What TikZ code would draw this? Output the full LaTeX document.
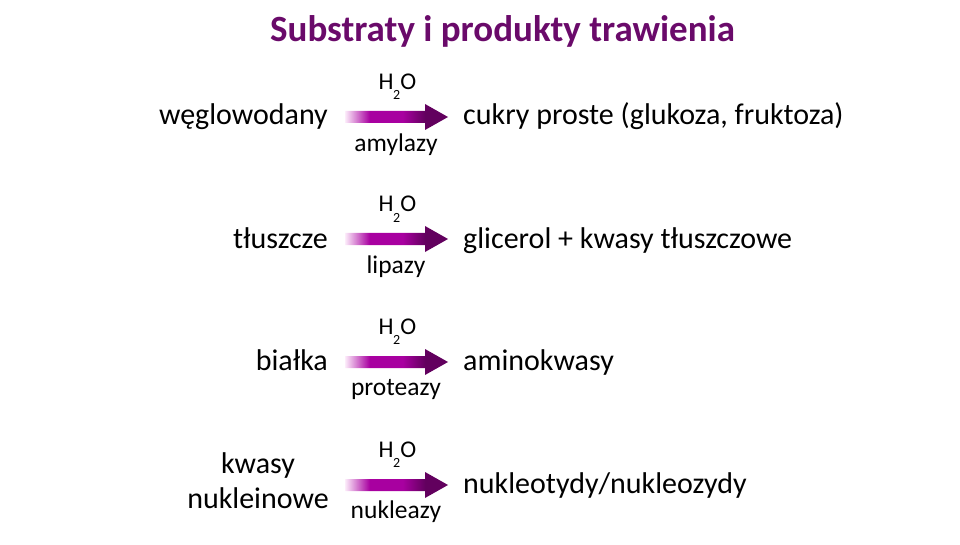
\documentclass[tikz,border=0pt]{standalone}
\usepackage{fontspec}
\setmainfont{Carlito}
\usetikzlibrary{calc}
\definecolor{titlepurple}{RGB}{106,10,106}
\definecolor{arrowlight}{RGB}{252,236,250}
\definecolor{arrowmag}{RGB}{168,0,160}
\definecolor{arrowdark}{RGB}{98,0,94}
\pgfdeclarehorizontalshading{arrowshade}{100bp}{color(0bp)=(arrowlight); color(25bp)=(arrowlight); color(37bp)=(arrowmag); color(53bp)=(arrowmag); color(64bp)=(arrowdark); color(100bp)=(arrowdark)}
\newcommand{\water}{H\kern-0.5pt\raisebox{-10pt}{\fontsize{14}{14}\selectfont 2}\kern0.3pt O}
\tikzset{
  maintext/.style={inner sep=0pt, font=\fontsize{30}{36}\selectfont},
  labeltext/.style={inner sep=0pt, anchor=base, font=\fontsize{25.5}{30}\selectfont},
  watertext/.style={inner sep=0pt, anchor=base, font=\fontsize{24}{28}\selectfont},
  titletext/.style={inner sep=0pt, anchor=base, text=titlepurple, font=\fontsize{37}{44}\selectfont\bfseries},
  harrow/.pic={\shade[shading=arrowshade] (0,-6) -- (80,-6) -- (80,-13) -- (103,0) -- (80,13) -- (80,6) -- (0,6) -- cycle;}
}
\begin{document}
\begin{tikzpicture}[x=1pt,y=-1pt]
\useasboundingbox (0,0) rectangle (960,545);
\node[titletext] (title) at (502.5,42) {Substraty i produkty trawienia};
% row 1
\node[maintext, anchor=base east] (s1) at (328,125) {węglowodany};
\pic at (345,117) {harrow};
\node[watertext] (w1) at (397.5,90) {\water};
\node[labeltext] (e1) at (396,152) {amylazy};
\node[maintext, anchor=base west] (p1) at (463,125) {cukry proste (glukoza, fruktoza)};
% row 2
\node[maintext, anchor=base east] (s2) at (328,248) {tłuszcze};
\pic at (345,239) {harrow};
\node[watertext] (w2) at (397.5,212) {\water};
\node[labeltext] (e2) at (396,273) {lipazy};
\node[maintext, anchor=base west] (p2) at (463,248) {glicerol + kwasy tłuszczowe};
% row 3
\node[maintext, anchor=base east] (s3) at (328,370) {białka};
\pic at (345,362) {harrow};
\node[watertext] (w3) at (397.5,334) {\water};
\node[labeltext] (e3) at (396,395) {proteazy};
\node[maintext, anchor=base west] (p3) at (463,370) {aminokwasy};
% row 4
\node[maintext, anchor=base] (s4a) at (258,473) {kwasy};
\node[maintext, anchor=base] (s4b) at (258,508) {nukleinowe};
\pic at (345,485) {harrow};
\node[watertext] (w4) at (397.5,457) {\water};
\node[labeltext] (e4) at (396,518) {nukleazy};
\node[maintext, anchor=base west] (p4) at (463,493) {nukleotydy/nukleozydy};
\end{tikzpicture}
\end{document}
